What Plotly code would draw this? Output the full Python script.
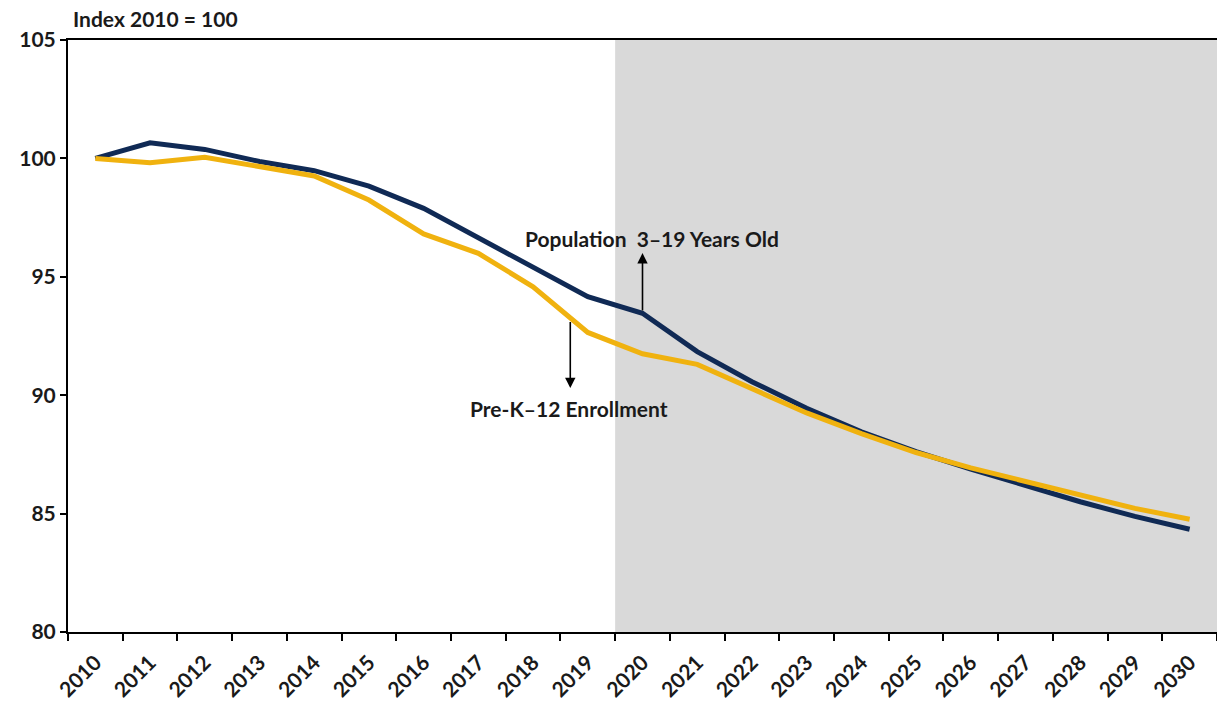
import plotly.graph_objects as go

years = [str(y) for y in range(2010, 2031)]
population_3_19 = [100.0, 100.66, 100.38, 99.87, 99.48, 98.83, 97.89, 96.64, 95.43,
                   94.16, 93.46, 91.84, 90.57, 89.45, 88.45, 87.62, 86.88, 86.17,
                   85.50, 84.88, 84.34]
prek12_enrollment = [100.0, 99.82, 100.05, 99.65, 99.26, 98.24, 96.81, 95.99, 94.58,
                     92.65, 91.75, 91.30, 90.25, 89.25, 88.38, 87.58, 86.93, 86.35,
                     85.79, 85.22, 84.76]
y_ticks = [80, 85, 90, 95, 100, 105]

NAVY = "#102A55"
GOLD = "#F0B20F"
TEXT = "#1A1A1A"
FONT = "Lato, Carlito, Calibri, Arial, sans-serif"

fig = go.Figure()

# Projection period shading (2020 onward)
fig.add_shape(type="rect", xref="x", yref="y", x0=9.5, x1=20.5, y0=80, y1=105,
              fillcolor="#D9D9D9", line_width=0, layer="below")

fig.add_trace(go.Scatter(x=years, y=population_3_19, mode="lines",
                         line=dict(color=NAVY, width=5), name="Population 3–19 Years Old"))
fig.add_trace(go.Scatter(x=years, y=prek12_enrollment, mode="lines",
                         line=dict(color=GOLD, width=5), name="Pre-K–12 Enrollment"))

# Series labels with pointer arrows
fig.add_annotation(x=10, y=96.0, ax=10, ay=population_3_19[10] + 0.05,
                   xref="x", yref="y", axref="x", ayref="y", text="",
                   showarrow=True, arrowhead=2, arrowsize=1.3, arrowwidth=1.6, arrowcolor="black")
fig.add_annotation(x=10.17, y=96.6, xref="x", yref="y", showarrow=False,
                   text="<b>Population  3–19 Years Old</b>",
                   font=dict(family=FONT, size=21, color=TEXT))
fig.add_annotation(x=8.68, y=90.3, ax=8.68, ay=93.15,
                   xref="x", yref="y", axref="x", ayref="y", text="",
                   showarrow=True, arrowhead=2, arrowsize=1.3, arrowwidth=1.6, arrowcolor="black")
fig.add_annotation(x=8.66, y=89.42, xref="x", yref="y", showarrow=False,
                   text="<b>Pre-K–12 Enrollment</b>",
                   font=dict(family=FONT, size=21, color=TEXT))

# Axis unit label
fig.add_annotation(x=0.003, y=1.0, xref="paper", yref="paper", yanchor="bottom",
                   xanchor="left", yshift=7, showarrow=False,
                   text="<b>Index 2010 = 100</b>",
                   font=dict(family=FONT, size=21, color=TEXT))

fig.update_layout(
    width=1217, height=703,
    margin=dict(l=68, r=0, t=40, b=71),
    plot_bgcolor="white", paper_bgcolor="white",
    showlegend=False,
    font=dict(family=FONT, color=TEXT),
)
fig.update_xaxes(type="category", range=[-0.5, 20.5], tickson="boundaries",
                 ticks="outside", ticklen=7, tickwidth=2, tickcolor="black",
                 showline=True, linecolor="black", linewidth=2, mirror=True,
                 showgrid=False, tickangle=-45, ticklabelstandoff=8,
                 tickfont=dict(family=FONT, size=21, color=TEXT),
                 tickprefix="<b>", ticksuffix="</b>")
fig.update_yaxes(range=[80, 105], tickvals=y_ticks,
                 ticktext=[f"<b>{v}</b>" for v in y_ticks],
                 ticks="outside", ticklen=6, tickwidth=2, tickcolor="black",
                 showline=True, linecolor="black", linewidth=2,
                 showgrid=False, zeroline=False,
                 tickfont=dict(family=FONT, size=21, color=TEXT))

fig.write_html("out.html")
